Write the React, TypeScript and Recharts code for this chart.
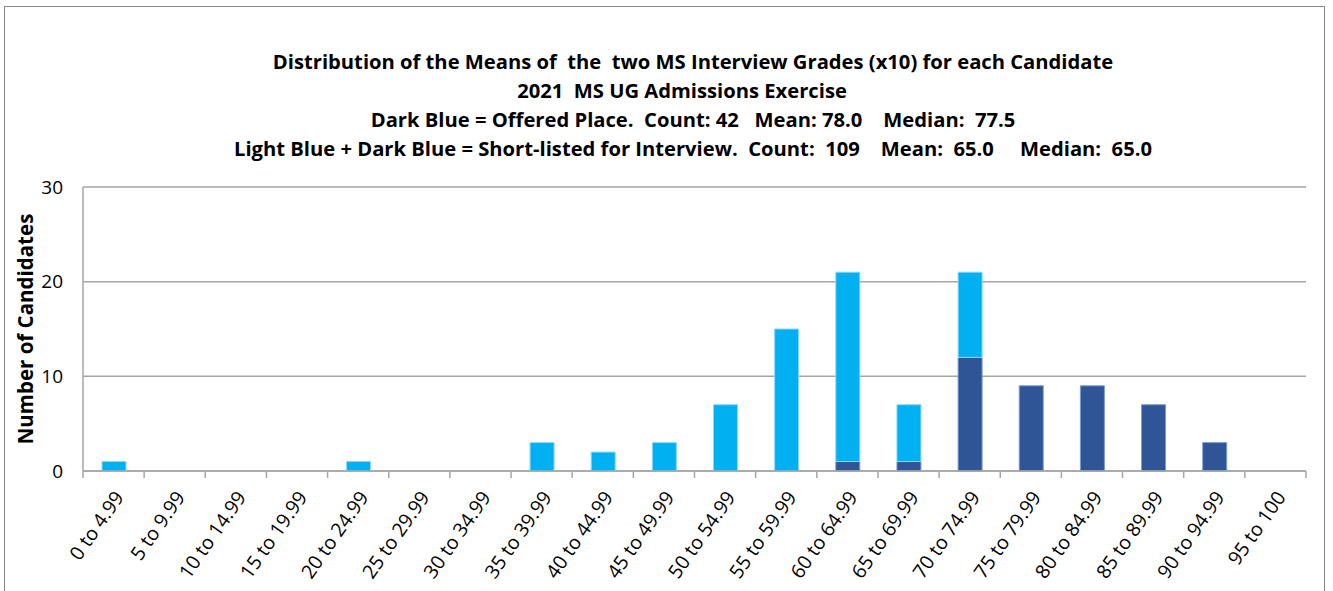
import React from 'react';
import { BarChart, Bar, XAxis, YAxis, CartesianGrid } from 'recharts';

const categories = ['0 to 4.99', '5 to 9.99', '10 to 14.99', '15 to 19.99', '20 to 24.99', '25 to 29.99', '30 to 34.99', '35 to 39.99', '40 to 44.99', '45 to 49.99', '50 to 54.99', '55 to 59.99', '60 to 64.99', '65 to 69.99', '70 to 74.99', '75 to 79.99', '80 to 84.99', '85 to 89.99', '90 to 94.99', '95 to 100'];
const offered = [0, 0, 0, 0, 0, 0, 0, 0, 0, 0, 0, 0, 1, 1, 12, 9, 9, 7, 3, 0];
const shortlistedOnly = [1, 0, 0, 0, 1, 0, 0, 3, 2, 3, 7, 15, 20, 6, 9, 0, 0, 0, 0, 0];
const yTicks = [0, 10, 20, 30];
const titleLines = [
  'Distribution of the Means of  the  two MS Interview Grades (x10) for each Candidate',
  '2021  MS UG Admissions Exercise',
  'Dark Blue = Offered Place.  Count: 42   Mean: 78.0    Median:  77.5',
  'Light Blue + Dark Blue = Short-listed for Interview.  Count:  109    Mean:  65.0     Median:  65.0',
];
const titleCenters = [693, 682, 693, 693];

const data = categories.map((c, i) => ({ name: c, offered: offered[i], shortlisted: shortlistedOnly[i] }));

const FONT = '"Open Sans", Lato, sans-serif';
const PLOT_LEFT = 83;
const PLOT_RIGHT = 1306;

const XTick = (props: any) => {
  const { x, y, payload, index } = props;
  const bw = (PLOT_RIGHT - PLOT_LEFT) / categories.length;
  const left = x - bw / 2;
  const tx = x + 5;
  const ty = y + 22;
  return (
    <g>
      <line x1={left} y1={y} x2={left} y2={y + 7} stroke="#A6A6A6" strokeWidth={1.5} />
      {index === categories.length - 1 && (
        <line x1={x + bw / 2} y1={y} x2={x + bw / 2} y2={y + 7} stroke="#A6A6A6" strokeWidth={1.5} />
      )}
      <text x={tx} y={ty} textAnchor="end" dominantBaseline="central" transform={`rotate(-55, ${tx}, ${ty})`}
        fontFamily={FONT} fontSize={19.5} fill="#000">
        {payload.value}
      </text>
    </g>
  );
};

export default function App() {
  return (
    <div style={{ position: 'absolute', left: 0, top: 0, width: 1333, height: 591, background: '#fff', overflow: 'hidden' }}>
      <div style={{ position: 'absolute', left: 4, top: 6, width: 1321, height: 600, border: '1px solid #888', boxSizing: 'border-box' }} />
      {titleLines.map((t, i) => (
        <div key={i} style={{
          position: 'absolute', left: titleCenters[i] - 600, width: 1200, top: 61 + i * 29 - 14, height: 28,
          lineHeight: '28px', textAlign: 'center', whiteSpace: 'pre', fontFamily: FONT, fontWeight: 700, fontSize: 20.2, color: '#000',
        }}>{t}</div>
      ))}
      <div style={{
        position: 'absolute', left: 25 - 150, top: 329 - 14, width: 300, height: 28, lineHeight: '28px', textAlign: 'center',
        transform: 'rotate(-90deg)', fontFamily: FONT, fontWeight: 700, fontSize: 20.5, color: '#000', whiteSpace: 'pre',
      }}>Number of Candidates</div>
      <div style={{ position: 'absolute', left: 0, top: 0 }}>
        <BarChart width={1333} height={591} data={data} margin={{ top: 187, right: 27, bottom: 0, left: 0 }} barSize={24}>
          <CartesianGrid vertical={false} horizontal stroke="#A6A6A6" strokeWidth={1.5} />
          <XAxis dataKey="name" interval={0} height={120} tickLine={false} tickSize={0} tickMargin={0}
            axisLine={{ stroke: '#A6A6A6', strokeWidth: 1.5 }} tick={<XTick />} />
          <YAxis width={83} domain={[0, 30]} ticks={yTicks} tickLine={false} tickSize={0} tickMargin={20}
            axisLine={{ stroke: '#A6A6A6', strokeWidth: 1.5 }}
            tick={{ fontFamily: FONT, fontSize: 19, fill: '#000' }} />
          <Bar dataKey="offered" stackId="a" fill="#2F5597" stroke="#7A9BD0" strokeWidth={1} isAnimationActive={false} />
          <Bar dataKey="shortlisted" stackId="a" fill="#00B0F0" stroke="#8AD8F8" strokeWidth={1} isAnimationActive={false} />
        </BarChart>
      </div>
    </div>
  );
}
